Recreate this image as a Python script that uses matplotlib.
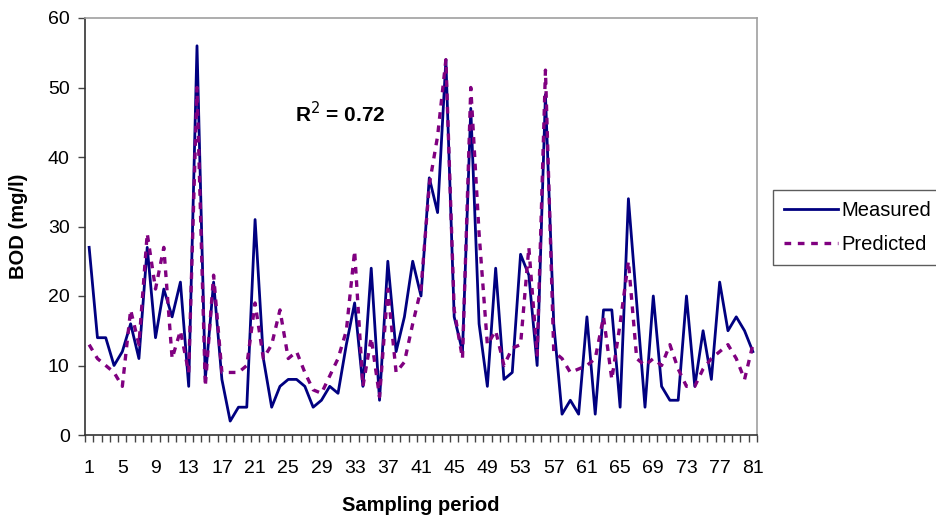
import matplotlib
matplotlib.use("Agg")
import matplotlib.pyplot as plt
import numpy as np

# ---- data ----
periods = np.arange(1, 82)
measured = [27, 14, 14, 10, 12, 16, 11, 27, 14, 21,
            17, 22, 7, 56, 8, 22, 8, 2, 4, 4,
            31, 11, 4, 7, 8, 8, 7, 4, 5, 7,
            6, 13, 19, 7, 24, 5, 25, 12, 17, 25,
            20, 37, 32, 54, 17, 12, 47, 16, 7, 24,
            8, 9, 26, 23, 10, 49, 16, 3, 5, 3,
            17, 3, 18, 18, 4, 34, 19, 4, 20, 7,
            5, 5, 20, 7, 15, 8, 22, 15, 17, 15, 12]
predicted = [13, 11, 10, 9, 7, 18, 13, 29, 21, 27,
             11, 15, 9, 50, 7, 23, 9, 9, 9, 10,
             19, 11, 13, 18, 11, 12, 9, 6.5, 6, 8.5,
             11, 15, 26.5, 7, 14, 5.5, 21, 9, 10.5, 16,
             21, 36, 43, 54, 18, 11, 50, 29, 13, 15,
             10, 12.5, 13, 27, 11.5, 52.5, 12, 11, 9, 9.5,
             10, 11, 17, 8, 16, 25, 11, 10, 11, 10,
             13, 9.5, 7, 7, 9.5, 11, 12, 13, 11, 8, 13]
r2_text = "R$^{2}$ = 0.72"
x_labels = list(range(1, 82, 4))

plt.rcParams["font.family"] = ["Liberation Sans", "DejaVu Sans"]

fig = plt.figure(figsize=(9.37, 5.29), dpi=100)
ax = fig.add_axes([85 / 937, 1 - 435 / 529, (757 - 85) / 937, (435 - 18) / 529])

ax.plot(periods, measured, color="#000080", linewidth=2.0, label="Measured", zorder=3)
ax.plot(periods, predicted, color="#800080", linewidth=2.4, linestyle=(0, (2, 2)),
        label="Predicted", zorder=4)

ax.set_xlim(0.5, 81.5)
ax.set_ylim(0, 60)
ax.set_yticks(np.arange(0, 61, 10))
ax.set_xticks(x_labels)
ax.set_xticklabels([str(v) for v in x_labels], fontsize=14)
ax.set_xticks(np.arange(0.5, 82, 1), minor=True)
ax.tick_params(axis="x", which="major", length=0, pad=18)
ax.tick_params(axis="x", which="minor", length=5, width=1, color="#444444", direction="out")
ax.tick_params(axis="y", which="major", length=5, width=1, color="#444444", labelsize=14, pad=6)

for side in ("top", "right"):
    ax.spines[side].set_color("#a0a0a0")
    ax.spines[side].set_linewidth(1.2)
for side in ("left", "bottom"):
    ax.spines[side].set_color("#333333")
    ax.spines[side].set_linewidth(1.2)

ax.set_xlabel("Sampling period", fontsize=14.5, fontweight="bold", labelpad=14)
ax.set_ylabel("BOD (mg/l)", fontsize=14.5, fontweight="bold", labelpad=14)

ax.text(25.8, 46.3, r2_text, fontsize=15, fontweight="bold", va="center", ha="left")

leg = fig.legend(loc="upper left", bbox_to_anchor=(773 / 937, 1 - 190 / 529),
                 fontsize=14.5, frameon=True, fancybox=False, handlelength=2.7,
                 borderpad=0.55, labelspacing=0.75, handletextpad=0.15, borderaxespad=0)
leg.get_frame().set_edgecolor("#333333")
leg.get_frame().set_linewidth(1.0)

fig.savefig("out.png", dpi=100)
